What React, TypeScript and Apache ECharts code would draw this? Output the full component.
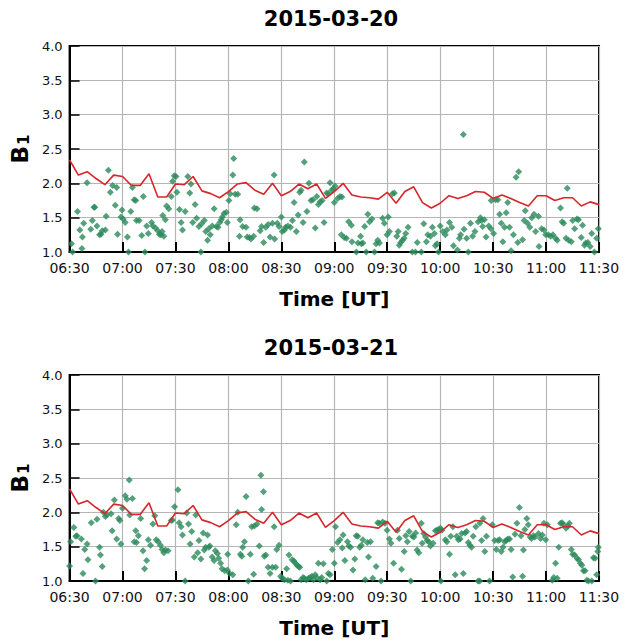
import React, { useEffect, useRef } from "react";
import * as echarts from "echarts";

// minutes after 06:30 UT
const lineTimes = [0, 5, 10, 15, 20, 25, 30, 35, 40, 45, 50, 55, 60, 65, 70, 75, 80, 85, 90, 95, 100, 105, 110, 115, 120, 125, 130, 135, 140, 145, 150, 155, 160, 165, 170, 175, 180, 185, 190, 195, 200, 205, 210, 215, 220, 225, 230, 235, 240, 245, 250, 255, 260, 265, 270, 275, 280, 285, 290, 295, 300];
const b1Reference = [2.34, 2.12, 2.17, 2.07, 1.98, 2.12, 2.10, 1.97, 1.97, 2.14, 1.80, 1.80, 1.99, 1.98, 2.10, 1.89, 1.85, 1.79, 1.88, 1.99, 2.01, 1.90, 1.84, 2.00, 1.82, 1.88, 1.99, 1.92, 1.99, 1.78, 1.88, 2.00, 1.83, 1.80, 1.79, 1.77, 1.87, 1.71, 1.88, 1.95, 1.72, 1.64, 1.71, 1.82, 1.78, 1.82, 1.88, 1.87, 1.78, 1.83, 1.78, 1.72, 1.67, 1.82, 1.82, 1.75, 1.79, 1.79, 1.67, 1.73, 1.69];

const xTickMinutes = [0, 30, 60, 90, 120, 150, 180, 210, 240, 270, 300];
const yTicks = [1.0, 1.5, 2.0, 2.5, 3.0, 3.5, 4.0];
const titles = ["2015-03-20", "2015-03-21"];

const points0320: [number, number][] = [
  [1.1,1.12],[1.7,1.0],[4.5,1.59],[5.8,1.32],[7,1.05],[7.3,1.22],[8,1.42],[9.9,2.01],[12,1.33],[12.9,1.46],[13.8,1.65],[14.3,1.65],[15.5,1.38],[17,1.25],[17.8,1.26],[18.5,1.31],[20.3,1.32],[20.7,1.52],[22,2.19],[23.1,1.87],[24.4,1.97],[25.9,1.68],[26.7,1.94],[27.2,1.26],[29.1,1.51],[29.7,1.61],[30.4,1.48],[31.5,1.43],[32.8,1.22],[33.4,1.0],[34.7,1.59],[35.6,1.94],[36.6,1.76],[37.5,1.75],[37.9,1.46],[39.4,1.46],[40.9,1.24],[41.8,1.81],[42.7,1.0],[43.7,1.38],[44.6,1.27],[46.5,1.43],[47.2,1.38],[48.7,1.35],[50,1.31],[50.9,1.26],[51.7,1.25],[52.4,1.30],[52.8,1.53],[53.4,1.23],[54.3,1.47],[55,1.67],[56.2,1.63],[57.6,1.81],[58.4,2.03],[59.3,2.11],[60.3,2.10],[60.8,1.87],[62.3,1.62],[63.2,1.43],[64,1.32],[65.5,1.59],[67,2.10],[68.1,1.86],[68.8,1.99],[69.8,1.43],[71.1,1.69],[72,1.49],[73.3,1.37],[74.4,1.0],[74.8,1.41],[76.3,1.46],[77.2,1.30],[78.2,1.17],[78.9,1.34],[79.7,1.25],[80.8,1.38],[81.9,1.63],[83.2,1.37],[84.1,1.36],[85.1,1.43],[86,1.47],[86.6,1.51],[87.5,1.56],[88.8,1.58],[89.4,1.43],[90.3,1.75],[91,1.85],[92.5,2.12],[93,2.36],[93.8,1.84],[95.3,1.84],[96.3,1.23],[96.6,1.47],[98.1,1.37],[100,1.36],[100.6,1.22],[101.9,1.21],[102.8,1.19],[104.3,1.23],[104.7,1.64],[106.2,1.63],[108,1.31],[108.8,1.37],[110,1.14],[111.2,1.36],[112.5,1.40],[113.6,1.22],[115,1.42],[115.9,2.12],[116.2,1.19],[117.7,1.42],[118.7,1.37],[120,1.51],[120.5,1.30],[121.8,1.32],[122.4,1.36],[123.7,1.38],[125.2,1.36],[126.3,1.46],[127.2,1.72],[128.5,1.30],[129.5,1.54],[130.4,1.87],[131.2,1.90],[132.3,1.43],[133,2.31],[134.5,1.59],[135.6,2.00],[136.8,1.75],[137.9,1.76],[139.2,1.35],[140.1,1.81],[141,1.69],[142,1.73],[143.1,1.75],[144.2,1.43],[145.7,1.86],[146.6,1.85],[147.6,2.01],[148.5,1.90],[149.4,1.92],[150.4,1.96],
  [150,1.72],[151.9,1.78],[153.2,1.81],[154,1.25],[154.3,1.80],[155.6,1.21],[156.9,1.20],[158.2,1.44],[159.7,1.39],[160,1.15],[162.5,1.0],[163.4,1.13],[164.9,1.23],[165.3,1.12],[166.2,1.13],[167.2,1.37],[168.1,1.0],[169,1.55],[170,1.44],[171.3,1.48],[172.8,1.0],[173.7,1.12],[174.6,1.17],[175.6,1.13],[177.4,1.49],[178.4,1.42],[179.9,1.25],[180.6,1.51],[181.2,1.30],[183,1.85],[184,1.86],[185.4,1.23],[186.2,1.30],[186.8,1.10],[187.7,1.14],[188.6,1.17],[189.6,1.20],[190.5,1.27],[191.8,1.36],[194.2,1.0],[196,1.0],[197,1.14],[199.3,1.0],[200.7,1.41],[202.2,1.15],[203,1.25],[204.5,1.23],[205.6,1.36],[206.7,1.27],[207.3,1.09],[208.2,1.12],[209.1,1.0],[210,1.38],[211.5,1.30],[212.9,1.25],[213.8,1.32],[215.3,1.43],[216.6,1.36],[217.5,1.09],[219.8,1.03],[220.9,1.20],[221.6,1.25],[223.1,2.71],[223.5,1.33],[225,1.20],[225.9,1.0],[227.2,1.42],[228.4,1.23],[229.7,1.30],[231.5,1.44],[232.8,1.50],[233.4,1.46],[234.1,1.37],[235,1.47],[236,1.22],[237.5,1.38],[238.8,1.34],[238.9,1.75],[240.3,1.27],[241.4,1.76],[242.7,1.76],[243.7,1.55],[244.6,1.42],[245.5,1.15],[246.5,1.36],[247.4,1.57],[248.3,1.72],[249.3,1.36],[250.2,1.02],[251.5,1.25],[253,2.09],[254,1.14],[254.5,2.17],[256.7,1.18],[257.6,1.46],[258.2,1.60],[259.5,1.42],[260.8,1.36],[261.9,1.50],[263.2,1.55],[264.1,1.30],[265.7,1.52],[266,1.08],[267.5,1.34],[268.8,1.32],[269.8,1.25],[271.3,1.25],[272.6,1.23],[273.9,1.25],[275.4,1.20],[276.3,1.17],[278.2,1.64],[279.1,1.44],[280,1.42],[281.3,1.20],[282,1.93],[282.8,1.17],[284.3,1.15],[285.1,1.46],[286.2,1.34],[287.5,1.48],[288.4,1.47],[289.9,1.21],[290.7,1.39],[291.8,1.10],[292.5,1.13],[293.7,1.14],[295,1.08],[295.9,1.27],[297.4,1.0],[298.7,1.20],[299.6,1.34]
];

const points0321: [number, number][] = [
  [0,1.22],[0.6,1.57],[2.4,1.78],[3.5,1.65],[4.2,1.66],[6.7,1.61],[7.6,1.11],[8.6,1.46],[9.9,1.54],[10.4,1.31],[12.3,1.85],[14.7,1.0],[15.5,1.90],[17,1.49],[17.5,1.38],[18.5,1.21],[19.2,2.0],[20.3,1.94],[21.1,1.96],[23.5,1.98],[24.1,1.73],[25.4,2.18],[26.7,1.61],[27.8,1.91],[28.5,1.88],[29.1,1.54],[30,2.06],[31.5,2.24],[32.5,2.19],[33.8,2.47],[34.1,1.96],[35.6,2.20],[36.6,1.57],[37.5,1.73],[37.9,1.56],[39,1.66],[40.3,1.91],[41.6,1.44],[42.5,1.18],[43.7,1.30],[44.6,1.60],[45.9,1.52],[47.2,1.83],[48.3,1.95],[49.1,1.60],[50.2,1.57],[51.5,1.52],[52.4,1.46],[53.4,1.41],[54.3,1.45],[55.8,1.44],[57.6,1.88],[58.3,1.89],[59.5,2.08],[61.4,2.33],[62.1,1.85],[63.2,1.79],[64,1.67],[65.5,1.0],[66.4,1.99],[67.4,1.83],[68.3,1.54],[69.2,1.72],[70.7,1.35],[71.5,1.96],[72.6,1.41],[73.3,1.59],[74.4,1.32],[75.7,1.70],[76.3,1.45],[77.1,1.49],[78.2,1.67],[78.9,1.49],[79.5,1.51],[80.8,1.35],[81.9,1.30],[82.6,1.44],[83.8,1.40],[84.5,1.33],[85.6,1.26],[86.4,1.18],[87.9,1.15],[89.4,1.16],[89.6,1.39],[90.7,1.11],[92.5,1.09],[94.4,1.82],[95.3,2.0],[96.8,1.39],[97.6,1.36],[98.1,1.49],[99.1,1.57],[100,2.23],[101.3,1.0],[102.4,1.39],[103.2,1.79],[104.3,1.10],[104.7,1.80],[106.2,1.83],[107.5,1.51],[108.4,2.54],[108.8,2.04],[109.9,2.30],[110.3,1.36],[111.2,1.38],[112.5,1.20],[113.6,1.11],[114.9,1.20],[115.9,1.79],[116.8,1.20],[117.4,1.46],[118.7,1.52],[119.6,1.07],[120.5,1.04],[121.8,1.02],[123,1.18],[123.7,1.01],[124.3,1.38],[125.2,1.0],[126.1,1.31],[127.1,1.29],[128,1.26],[128.9,1.23],[129.8,1.21],[130.4,1.20],[131.2,1.02],[132.3,1.05],[133,1.04],[134.1,1.02],[135.4,1.04],[136.4,1.05],[137.3,1.07],[138.2,1.02],[139.2,1.09],[140.1,1.05],[141,1.26],[142,1.02],[142.9,1.05],[143.8,1.25],[145.7,1.0],[146.6,1.11],
  [147.6,1.09],[148.9,1.46],[150,1.26],[150.7,1.79],[151.9,1.56],[153.2,1.60],[154.5,1.48],[155,1.67],[156,1.30],[157.5,1.57],[158.2,1.51],[159.3,1.49],[160.6,1.16],[161.6,1.32],[162.4,1.66],[163.3,1.65],[164.4,1.49],[165.3,1.52],[166.2,1.60],[167.5,1.02],[168.7,1.56],[169.4,1.35],[170.5,1.57],[171.8,1.04],[173.7,1.21],[174.6,1.85],[175.5,1.84],[176.5,1.0],[177.4,1.86],[178.7,1.84],[179.9,1.74],[181.2,1.61],[182.1,1.55],[183.6,1.26],[185.8,1.74],[186.8,1.62],[188.1,1.17],[189.6,1.43],[190.5,1.66],[191.4,1.57],[192.4,1.72],[193.3,1.0],[194.2,1.65],[195.1,1.64],[196.1,1.70],[196.9,1.45],[197.9,1.41],[199.3,1.84],[199.8,1.55],[200.7,1.69],[201.7,1.64],[202.6,1.59],[203.5,1.57],[204.5,1.51],[206,1.55],[207.3,1.73],[208.2,1.74],[209.1,1.75],[210.1,1.77],[210.4,1.0],[211,1.74],[212.9,1.60],[213.8,1.57],[215.3,1.39],[216,1.65],[217.2,1.79],[218.5,1.09],[219.4,1.65],[220.3,1.60],[221.3,1.61],[222.2,1.69],[223.1,1.11],[224.1,1.70],[225,1.72],[225.9,1.56],[226.9,1.52],[227.8,1.49],[228.7,1.65],[230.2,1.79],[231.5,1.0],[232.4,1.0],[232.5,1.84],[233.5,1.59],[234.3,1.91],[235.3,1.43],[236.2,1.65],[238,1.0],[239.5,1.82],[240.9,1.59],[241.8,1.46],[242.8,1.59],[243.7,1.60],[244.6,1.43],[245.6,1.49],[246.5,1.57],[247.4,1.59],[248.3,1.61],[249.3,1.61],[250.2,1.46],[251.1,1.06],[252.4,1.68],[253.5,1.84],[254.9,2.07],[255.8,1.66],[256.7,1.07],[257.2,1.45],[258,1.75],[259.1,1.91],[259.9,1.82],[261,1.64],[261.8,1.62],[262.9,1.66],[263.7,1.64],[265.7,1.69],[266.9,1.62],[267.9,1.67],[268.8,1.84],[269.8,1.60],[270.7,1.82],[273.5,1.01],[274.4,1.05],[275.4,1.26],[276.3,1.04],[277.2,1.49],[278.2,1.84],[279.1,1.85],[280,1.82],[281.3,1.77],[282.5,1.80],[283.2,1.84],[284.3,1.46],[285.1,1.39],[286.2,1.38],[287.5,1.33],[288.4,1.31],[289.4,1.26],[290.3,1.23],[291.2,1.15],[292.1,1.15],[293.1,1.01],[294,1.0],[295.9,1.0],[296.8,1.34],[297.8,1.33],[298.7,1.09],[299.3,1.43],[299.6,1.49]
];

const FONT = "DejaVu Sans";
const pad = (n: number) => (n < 10 ? "0" + n : "" + n);
const fmtTime = (m: number) => {
  const total = 390 + Math.round(m);
  return pad(Math.floor(total / 60)) + ":" + pad(total % 60);
};

const GRID_LEFT = 63;
const GRID_W = 536;
const GRID_H = 206;
const GRID_TOPS = [46, 375];

export default function App() {
  const ref = useRef<HTMLDivElement>(null);
  useEffect(() => {
    document.body.style.margin = "0";
    if (!ref.current) return;
    const chart = echarts.init(ref.current, undefined, { renderer: "svg" });
    const allPoints = [points0320, points0321];

    const grids = GRID_TOPS.map((top) => ({
      left: GRID_LEFT,
      top,
      width: GRID_W,
      height: GRID_H,
      show: true,
      borderColor: "#000",
      borderWidth: 2,
      backgroundColor: "#fff",
    }));

    const xAxes = GRID_TOPS.map((_, i) => ({
      type: "value",
      gridIndex: i,
      min: xTickMinutes[0],
      max: xTickMinutes[xTickMinutes.length - 1],
      interval: 30,
      name: "Time [UT]",
      nameLocation: "middle",
      nameGap: 37,
      nameTextStyle: { fontFamily: FONT, fontSize: 20, fontWeight: "bold", color: "#000" },
      axisLine: { show: true, lineStyle: { color: "#000", width: 2 } },
      axisTick: { show: true, inside: true, length: 10, lineStyle: { color: "#000", width: 2 } },
      axisLabel: {
        show: true,
        margin: 9,
        fontFamily: FONT,
        fontSize: 14,
        color: "#111",
        formatter: (v: number) => fmtTime(v),
        showMinLabel: true,
        showMaxLabel: true,
      },
      splitLine: { show: true, lineStyle: { color: "#b5b5b5", width: 1.2 } },
    }));

    const yAxes = GRID_TOPS.map((_, i) => ({
      type: "value",
      gridIndex: i,
      min: yTicks[0],
      max: yTicks[yTicks.length - 1],
      interval: 0.5,
      name: "{b|B}{s|1}",
      nameLocation: "middle",
      nameRotate: 90,
      nameGap: 31,
      nameTextStyle: {
        color: "#000",
        rich: {
          b: { fontFamily: FONT, fontSize: 23, fontWeight: "bold", color: "#000", lineHeight: 26, verticalAlign: "bottom" },
          s: { fontFamily: FONT, fontSize: 15, fontWeight: "bold", color: "#000", lineHeight: 15, verticalAlign: "bottom", padding: [0, 0, 0, 1] },
        },
      },
      axisLine: { show: true, lineStyle: { color: "#000", width: 2 } },
      axisTick: { show: true, inside: true, length: 10, lineStyle: { color: "#000", width: 1.5 } },
      axisLabel: {
        show: true,
        margin: 7,
        fontFamily: FONT,
        fontSize: 13,
        color: "#111",
        formatter: (v: number) => v.toFixed(1),
      },
      splitLine: { show: true, lineStyle: { color: "#b5b5b5", width: 1.2 } },
    }));

    const series: any[] = [];
    allPoints.forEach((pts, i) => {
      series.push({
        type: "scatter",
        xAxisIndex: i,
        yAxisIndex: i,
        data: pts,
        symbol: "diamond",
        symbolSize: 7,
        itemStyle: { color: "#2b8a5a" },
        clip: false,
        z: 3,
      });
      series.push({
        type: "line",
        xAxisIndex: i,
        yAxisIndex: i,
        data: lineTimes.map((t, k) => [t, b1Reference[k]]),
        symbol: "none",
        lineStyle: { color: "#d7262b", width: 1.6 },
        z: 4,
      });
    });

    const graphic = titles.map((t, i) => ({
      type: "text",
      x: GRID_LEFT + GRID_W / 2,
      y: GRID_TOPS[i] - 27,
      style: {
        text: t,
        fontFamily: FONT,
        fontSize: 21,
        fontWeight: "bold",
        fill: "#000",
        align: "center",
        verticalAlign: "middle",
      },
    }));

    chart.setOption({
      animation: false,
      backgroundColor: "#fff",
      grid: grids,
      xAxis: xAxes,
      yAxis: yAxes,
      series,
      graphic,
    });
    return () => chart.dispose();
  }, []);
  return <div ref={ref} style={{ width: 628, height: 643 }} />;
}
